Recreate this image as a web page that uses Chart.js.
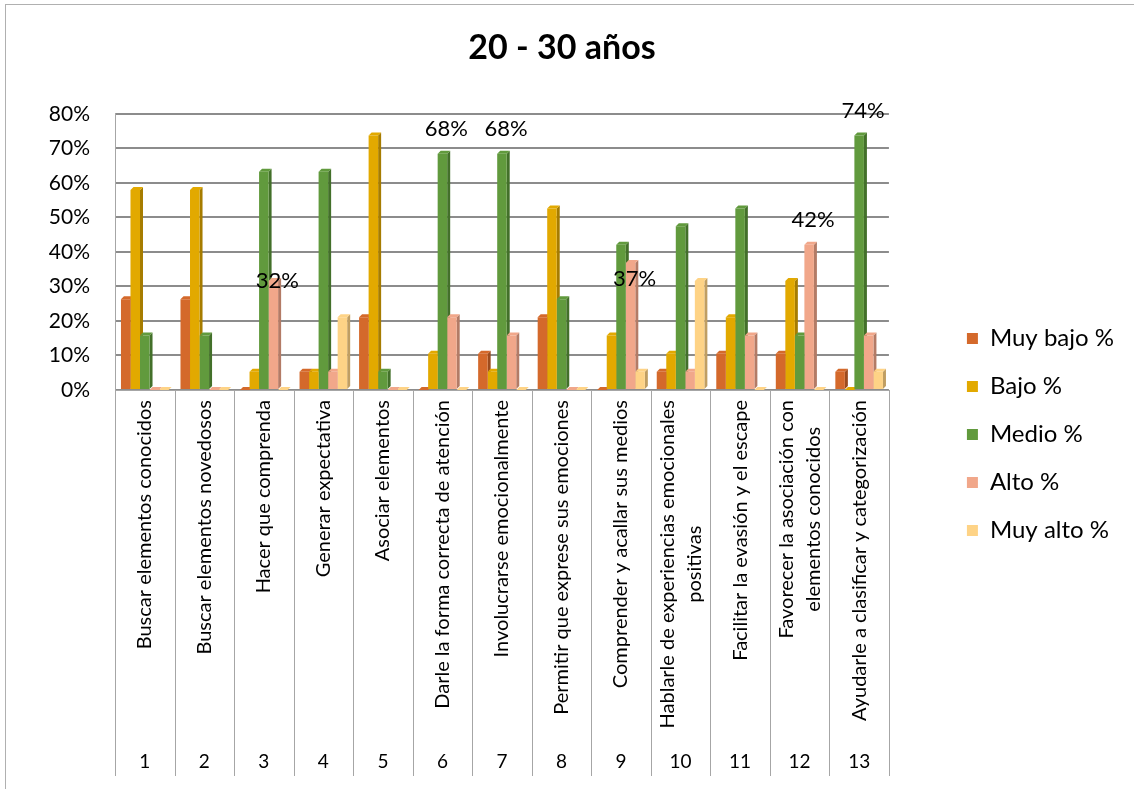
<!DOCTYPE html>
<html>
<head>
<meta charset="utf-8">
<script src="https://cdn.jsdelivr.net/npm/chart.js@4.4.1/dist/chart.umd.min.js"></script>
<style>
  html, body { margin: 0; padding: 0; background: #fff; }
  #wrap { position: relative; width: 1134px; height: 789px; }
  #wrap:before { content: ''; position: absolute; left: 5px; top: 4px; right: 0; bottom: 0;
    border-top: 1px solid #b0b0b0; border-left: 1px solid #b0b0b0; pointer-events: none; }
</style>
</head>
<body>
<div id="wrap"><canvas id="ageChart" width="1134" height="789"></canvas></div>
<script>
const categories = [
    'Buscar elementos conocidos',
    'Buscar elementos novedosos',
    'Hacer que comprenda',
    'Generar expectativa',
    'Asociar elementos',
    'Darle la forma correcta de atención',
    'Involucrarse emocionalmente',
    'Permitir que exprese sus emociones',
    'Comprender y acallar sus medios',
    ['Hablarle de experiencias emocionales', 'positivas'],
    'Facilitar la evasión y el escape',
    ['Favorecer la asociación con', 'elementos conocidos'],
    'Ayudarle a clasificar y categorización'
];
const itemNumbers = ['1', '2', '3', '4', '5', '6', '7', '8', '9', '10', '11', '12', '13'];

const muyBajo = [26.3, 26.3, 0, 5.3, 21.1, 0, 10.5, 21.1, 0, 5.3, 10.5, 10.5, 5.3];
const bajo    = [57.9, 57.9, 5.3, 5.3, 73.7, 10.5, 5.3, 52.6, 15.8, 10.5, 21.1, 31.6, 0];
const medio   = [15.8, 15.8, 63.2, 63.2, 5.3, 68.4, 68.4, 26.3, 42.1, 47.4, 52.6, 15.8, 73.7];
const alto    = [0, 0, 31.6, 5.3, 0, 21.1, 15.8, 0, 36.8, 5.3, 15.8, 42.1, 15.8];
const muyAlto = [0, 0, 0, 21.1, 0, 0, 0, 0, 5.3, 31.6, 0, 0, 5.3];

const yTicks = [0, 10, 20, 30, 40, 50, 60, 70, 80];

const FONT = 'Lato, "Open Sans", sans-serif';

// front colour / side colour for each series
const seriesColors = [
    ['#D4692B', '#9C4B1D'],
    ['#E2A900', '#A67C00'],
    ['#619A3D', '#43702A'],
    ['#F1A78A', '#B37B66'],
    ['#FED386', '#C09E62']
];

// small extruded side + top faces so the columns look like the 3D excel bars
const bar3d = {
    id: 'bar3d',
    beforeDatasetsDraw(chart, args, opts) {
        const ctx = chart.ctx;
        const dx = opts.depth, dy = opts.depth;
        ctx.save();
        chart.data.datasets.forEach((ds, di) => {
            const meta = chart.getDatasetMeta(di);
            meta.data.forEach(bar => {
                const l = bar.x - bar.width / 2, r = bar.x + bar.width / 2;
                ctx.fillStyle = seriesColors[di][1];
                ctx.beginPath();
                ctx.moveTo(r, bar.y);
                ctx.lineTo(r + dx, bar.y - dy);
                ctx.lineTo(r + dx, bar.base - dy);
                ctx.lineTo(r, bar.base);
                ctx.closePath();
                ctx.fill();
                ctx.fillStyle = seriesColors[di][0];
                ctx.beginPath();
                ctx.moveTo(l, bar.y);
                ctx.lineTo(l + dx, bar.y - dy);
                ctx.lineTo(r + dx, bar.y - dy);
                ctx.lineTo(r, bar.y);
                ctx.closePath();
                ctx.fill();
            });
        });
        ctx.restore();
    }
};

// value labels written on a few chosen bars
const valueLabels = {
    id: 'valueLabels',
    afterDatasetsDraw(chart, args, opts) {
        const ctx = chart.ctx;
        ctx.save();
        ctx.font = opts.font;
        ctx.fillStyle = '#000';
        ctx.textAlign = 'center';
        ctx.textBaseline = 'middle';
        opts.items.forEach(it => {
            const bar = chart.getDatasetMeta(it.ds).data[it.i];
            const v = chart.data.datasets[it.ds].data[it.i];
            ctx.fillText(Math.round(v) + '%', bar.x + 4, bar.y + it.dy);
        });
        ctx.restore();
    }
};

// category table under the plot: rotated names, item numbers and separators
const axisTable = {
    id: 'axisTable',
    afterDraw(chart, args, opts) {
        const ctx = chart.ctx;
        const x = chart.scales.x;
        const top = chart.chartArea.bottom;
        const n = categories.length;
        const step = x.width / n;
        ctx.save();
        ctx.strokeStyle = '#a6a6a6';
        ctx.lineWidth = 1;
        for (let i = 0; i <= n; i++) {
            const px = Math.round(x.left + i * step) + 0.5;
            ctx.beginPath();
            ctx.moveTo(px, top);
            ctx.lineTo(px, opts.bottom);
            ctx.stroke();
        }
        ctx.fillStyle = '#000';
        ctx.font = opts.font;
        ctx.textAlign = 'center';
        ctx.textBaseline = 'middle';
        categories.forEach((c, i) => {
            const lines = Array.isArray(c) ? c : [c];
            const w = Math.max(...lines.map(s => ctx.measureText(s).width));
            const cx = x.getPixelForValue(i);
            ctx.save();
            ctx.translate(cx, top + opts.gap);
            ctx.rotate(-Math.PI / 2);
            lines.forEach((s, j) => {
                ctx.fillText(s, -w / 2, (j - (lines.length - 1) / 2) * opts.lineHeight);
            });
            ctx.restore();
        });
        ctx.font = opts.numberFont;
        itemNumbers.forEach((s, i) => {
            ctx.fillText(s, x.getPixelForValue(i), opts.numberY);
        });
        ctx.restore();
    }
};

const names = ['Muy bajo %', 'Bajo %', 'Medio %', 'Alto %', 'Muy alto %'];
const series = [muyBajo, bajo, medio, alto, muyAlto];

const ctxAge = document.getElementById('ageChart').getContext('2d');
const ageChart = new Chart(ctxAge, {
    type: 'bar',
    data: {
        labels: categories,
        datasets: series.map((d, k) => ({
            label: names[k],
            data: d,
            backgroundColor: seriesColors[k][0],
            borderWidth: 0,
            categoryPercentage: 0.8,
            barPercentage: 1.0
        }))
    },
    options: {
        responsive: false,
        animation: false,
        layout: { padding: { left: 0, right: 10, top: 0, bottom: 0 } },
        scales: {
            x: {
                grid: { display: false },
                border: { color: '#a6a6a6' },
                ticks: { display: false },
                afterFit(s) { s.height = 399; }
            },
            y: {
                min: 0,
                max: 80,
                afterBuildTicks(s) { s.ticks = yTicks.map(v => ({ value: v })); },
                ticks: {
                    padding: 25,
                    color: '#000',
                    font: { family: FONT, size: 21 },
                    callback: v => v + '%'
                },
                grid: { color: '#8c8c8c', lineWidth: 2, drawTicks: false },
                border: { color: '#a6a6a6', width: 1 },
                afterFit(s) { s.width = 115; }
            },
            // empty spacer between the plot and the legend
            gap: {
                type: 'linear',
                position: 'right',
                display: true,
                grid: { display: false },
                ticks: { display: false },
                border: { display: false },
                afterFit(s) { s.width = 54; }
            }
        },
        plugins: {
            title: {
                display: true,
                text: '20 - 30 años',
                color: '#000',
                font: { family: FONT, size: 34, weight: 'bold' },
                padding: { top: 28, bottom: 45 }
            },
            legend: {
                position: 'right',
                title: {
                    display: true,
                    text: ' ',
                    font: { size: 10 },
                    padding: { top: 0, bottom: 68 }
                },
                labels: {
                    color: '#000',
                    boxWidth: 11,
                    boxHeight: 11,
                    padding: 24,
                    font: { family: FONT, size: 24 }
                }
            },
            tooltip: { enabled: false },
            bar3d: { depth: 3 },
            valueLabels: {
                font: '22px ' + FONT,
                items: [
                    { ds: 3, i: 2, dy: 0 },
                    { ds: 2, i: 5, dy: -25 },
                    { ds: 2, i: 6, dy: -25 },
                    { ds: 3, i: 8, dy: 16 },
                    { ds: 3, i: 11, dy: -25 },
                    { ds: 2, i: 12, dy: -25 }
                ]
            },
            axisTable: {
                bottom: 776,
                gap: 10,
                lineHeight: 27,
                font: '20px ' + FONT,
                numberFont: '19px ' + FONT,
                numberY: 762
            }
        }
    },
    plugins: [bar3d, valueLabels, axisTable]
});
</script>
</body>
</html>
